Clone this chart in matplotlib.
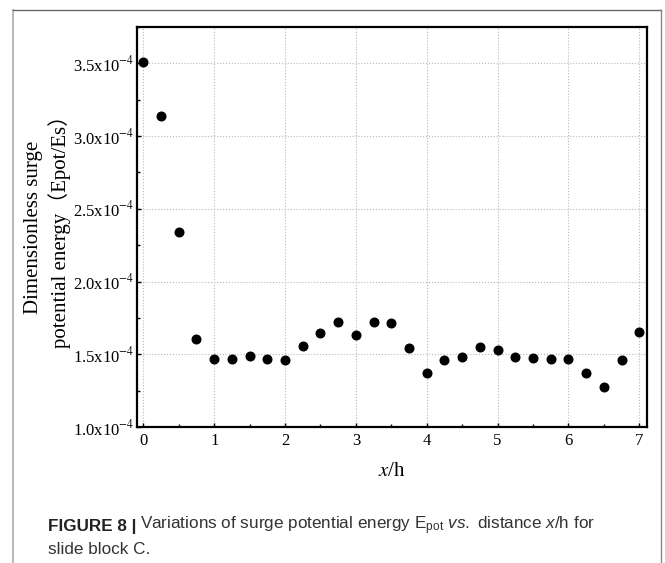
import numpy as np
import matplotlib
matplotlib.use('Agg')
import matplotlib.pyplot as plt
from matplotlib.lines import Line2D
from matplotlib.ticker import MultipleLocator, FixedLocator

plt.rcParams['font.family'] = ['Liberation Serif', 'Noto Sans CJK SC']
plt.rcParams['mathtext.fontset'] = 'custom'
plt.rcParams['mathtext.rm'] = 'Liberation Sans'
plt.rcParams['mathtext.it'] = 'Liberation Sans:italic'

# данные
x_h = [0, 0.25, 0.5, 0.75, 1, 1.25, 1.5, 1.75, 2, 2.25, 2.5, 2.75, 3, 3.25, 3.5,
       3.75, 4, 4.25, 4.5, 4.75, 5, 5.25, 5.5, 5.75, 6, 6.25, 6.5, 6.75, 7]
epot = [3.51, 3.14, 2.34, 1.606, 1.47, 1.465, 1.485, 1.47, 1.463, 1.557, 1.643,
        1.725, 1.633, 1.722, 1.715, 1.54, 1.372, 1.463, 1.483, 1.549, 1.532,
        1.483, 1.475, 1.465, 1.465, 1.372, 1.273, 1.458, 1.653]
epot = np.array(epot) * 1e-4

y_ticks = [1.0e-4, 1.5e-4, 2.0e-4, 2.5e-4, 3.0e-4, 3.5e-4]
y_tick_labels = [r'1.0x10$^{-4}$', r'1.5x10$^{-4}$', r'2.0x10$^{-4}$',
                 r'2.5x10$^{-4}$', r'3.0x10$^{-4}$', r'3.5x10$^{-4}$']
x_ticks = [0, 1, 2, 3, 4, 5, 6, 7]

fig = plt.figure(figsize=(6.65, 5.63), dpi=100)
ax = fig.add_axes([0.206, 0.2416, 0.767, 0.7105])

ax.plot(x_h, epot, 'o', color='black', markersize=6.2, zorder=3)

ax.set_xlim(-0.09, 7.11)
ax.set_ylim(1.0e-4, 3.75e-4)
ax.xaxis.set_major_locator(FixedLocator(x_ticks))
ax.xaxis.set_minor_locator(MultipleLocator(0.5))
ax.yaxis.set_major_locator(FixedLocator(y_ticks))
ax.yaxis.set_minor_locator(MultipleLocator(0.25e-4))
ax.set_yticklabels(y_tick_labels, math_fontfamily='stix')
ax.set_xticklabels([str(t) for t in x_ticks])

ax.grid(True, which='major', linestyle=':', color='#b8b8b8', linewidth=0.8)
ax.tick_params(which='both', direction='in', labelsize=12, color='black')
ax.tick_params(which='major', length=3, width=1)
ax.tick_params(which='minor', length=2, width=1)
ax.tick_params(axis='y', pad=2)
ax.tick_params(axis='x', pad=4)
for s in ax.spines.values():
    s.set_linewidth(1.6)

ax.set_xlabel(r'$x$/h', fontsize=15, labelpad=10, math_fontfamily='stix')
ax.set_ylabel('Dimensionless surge\npotential energy（Epot/Es）', fontsize=15,
              linespacing=1.3, labelpad=1)

# рамка вокруг рисунка
fig.add_artist(Line2D([13/665, 13/665], [0, 1 - 10/563], color='#aaaaaa', lw=1.2))
fig.add_artist(Line2D([13/665, 661/665], [1 - 10/563, 1 - 10/563], color='#666666', lw=1.0))
fig.add_artist(Line2D([661/665, 661/665], [0, 1 - 10/563], color='#888888', lw=1.0))

# подпись
cap_size = 12.3
t1 = fig.text(48/665, 1 - 526/563, 'FIGURE 8 |', fontsize=cap_size, fontweight='bold',
              family='Liberation Sans', va='center', color='#222222')
r = fig.canvas.get_renderer()
bb = t1.get_window_extent(renderer=r)
fig.text((bb.x1 + 4) / 665, 1 - 526/563,
         r'Variations of surge potential energy E$_{\mathrm{pot}}$ $vs.$ distance $x$/h for',
         fontsize=cap_size, family='Liberation Sans', va='center', color='#333333')
fig.text(48/665, 1 - 549/563, 'slide block C.', fontsize=cap_size,
         family='Liberation Sans', va='center', color='#333333')

fig.savefig('out.png', dpi=100)
